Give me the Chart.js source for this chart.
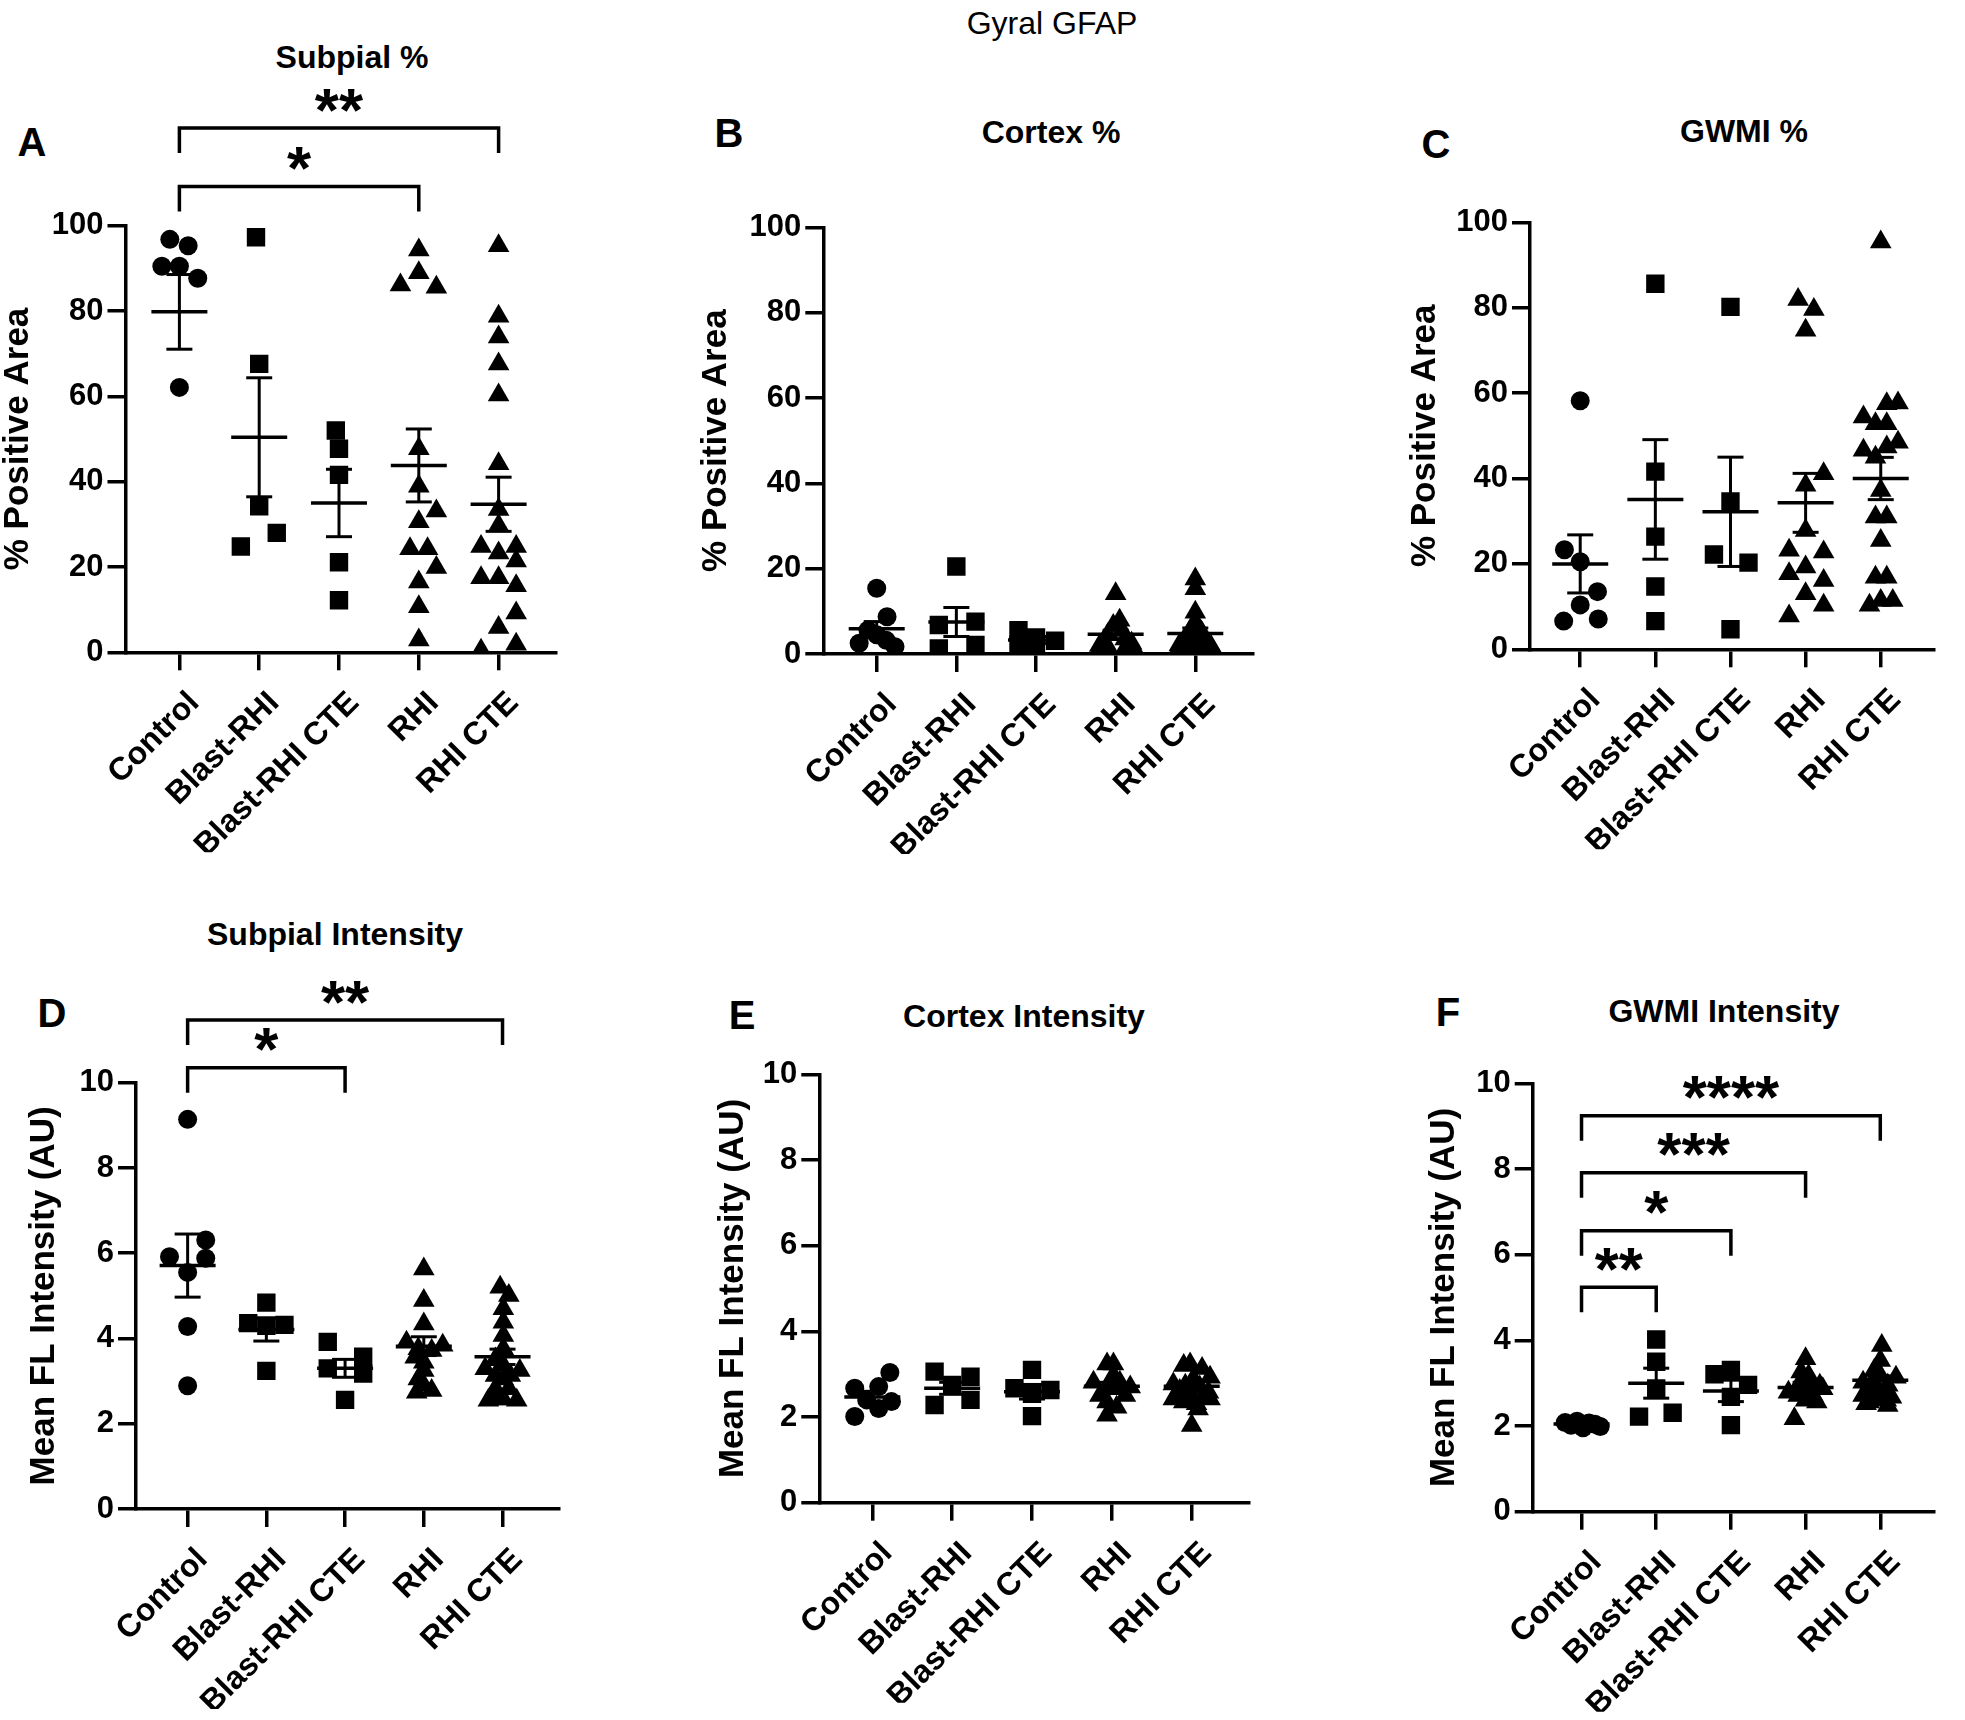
<!DOCTYPE html>
<html>
<head>
<meta charset="utf-8">
<script src="https://cdn.jsdelivr.net/npm/chart.js@4.4.1/dist/chart.umd.min.js"></script>
<style>
html,body{margin:0;padding:0;background:#fff;}
#page{position:relative;width:1965px;height:1720px;overflow:hidden;background:#fff;font-family:"Liberation Sans",Arial,Helvetica,sans-serif;color:#000;}
#page canvas{position:absolute;}
.t{position:absolute;transform:translate(-50%,-50%);white-space:nowrap;line-height:1;}
.title{font-weight:bold;font-size:32px;}
.letter{font-weight:bold;font-size:40px;}
.main{font-size:32px;}
</style>
</head>
<body>
<div id="page">
  <div class="t main" style="left:1052px;top:23px;">Gyral GFAP</div>
  <div class="t title" style="left:352px;top:57px;">Subpial %</div>
  <div class="t title" style="left:1051px;top:132px;">Cortex %</div>
  <div class="t title" style="left:1744px;top:131px;">GWMI %</div>
  <div class="t title" style="left:335px;top:934px;">Subpial Intensity</div>
  <div class="t title" style="left:1024px;top:1016px;">Cortex Intensity</div>
  <div class="t title" style="left:1724px;top:1011px;">GWMI Intensity</div>
  <div class="t letter" style="left:32px;top:142px;">A</div>
  <div class="t letter" style="left:729px;top:133px;">B</div>
  <div class="t letter" style="left:1436px;top:144px;">C</div>
  <div class="t letter" style="left:52px;top:1013px;">D</div>
  <div class="t letter" style="left:742px;top:1015px;">E</div>
  <div class="t letter" style="left:1448px;top:1012px;">F</div>
  <canvas id="cA"></canvas>
  <canvas id="cB"></canvas>
  <canvas id="cC"></canvas>
  <canvas id="cD"></canvas>
  <canvas id="cE"></canvas>
  <canvas id="cF"></canvas>
</div>
<script>
// ---------------- DATA ----------------
const categories = ['Control', 'Blast-RHI', 'Blast-RHI CTE', 'RHI', 'RHI CTE'];
const pctTicks = [0, 20, 40, 60, 80, 100];
const intTicks = [0, 2, 4, 6, 8, 10];

// A: Subpial % positive area
const subpialPctValues = [
  [96.8, 95.3, 90.5, 90.5, 87.7, 62.1],
  [97.3, 67.6, 34.2, 24.8, 28.0],
  [52.0, 47.7, 41.6, 21.1, 12.2],
  [94.3, 89.0, 86.1, 85.6, 47.7, 38.9, 33.1, 30.6, 24.3, 24.3, 19.9, 16.5, 10.7, 2.9],
  [95.3, 78.8, 73.9, 67.6, 60.3, 44.2, 33.5, 29.7, 24.8, 24.8, 23.3, 21.4, 17.5, 17.5, 15.6, 9.2, 5.8, 1.9, 0.5]
];
const subpialPctMeans = [79.8, 50.4, 35.0, 43.8, 34.7];
const subpialPctSems = [8.75, 13.95, 7.9, 8.55, 6.35];
const subpialPctComparisons = [[0, 4, '**'], [0, 3, '*']];

// B: Cortex % positive area
const cortexPctValues = [
  [15.4, 8.75, 5.6, 4.5, 3.2, 2.5, 1.7],
  [20.5, 7.6, 6.8, 2.1, 1.3],
  [5.6, 3.9, 3.1, 2.1, 1.4],
  [14.1, 7.9, 6.7, 5.5, 4.5, 3.5, 3.0, 2.5, 2.0, 1.5, 1.0, 0.7, 0.5, 0.3],
  [17.6, 15.3, 9.8, 7.5, 6.0, 5.1, 4.0, 3.5, 3.0, 2.5, 2.1, 1.7, 1.5, 1.3, 1.0, 0.8, 0.6, 0.4, 0.2]
];
const cortexPctMeans = [5.9, 7.5, 3.3, 4.6, 4.8];
const cortexPctSems = [1.7, 3.4, 0.8, 1.0, 1.3];
const cortexPctComparisons = [];

// C: GWMI % positive area
const gwmiPctValues = [
  [58.2, 23.3, 20.5, 13.5, 10.4, 6.6, 7.1],
  [85.6, 41.6, 26.4, 14.7, 6.6],
  [80.2, 34.6, 22.2, 20.3, 4.7],
  [81.9, 79.6, 74.7, 41.1, 38.4, 27.8, 23.2, 22.8, 19.3, 17.7, 16.1, 13.0, 10.3, 7.8],
  [95.4, 57.5, 57.7, 54.4, 52.8, 52.8, 46.6, 47.4, 48.5, 45.0, 37.2, 31.0, 31.0, 25.5, 16.9, 16.9, 10.3, 11.4, 11.4]
];
const gwmiPctMeans = [20.0, 35.1, 32.2, 34.3, 40.0];
const gwmiPctSems = [6.8, 14.0, 12.8, 6.9, 4.95];
const gwmiPctComparisons = [];

// D: Subpial intensity
const subpialIntValues = [
  [9.14, 6.31, 5.92, 5.88, 5.55, 4.28, 2.89],
  [4.84, 4.36, 4.32, 4.30, 3.24],
  [3.92, 3.30, 3.57, 3.18, 2.56],
  [5.63, 4.89, 4.34, 3.91, 3.84, 3.76, 3.72, 3.56, 3.44, 3.25, 3.05, 2.74, 2.78, 2.90],
  [5.20, 5.01, 4.70, 4.38, 4.07, 3.76, 3.52, 3.29, 3.25, 3.37, 3.13, 3.13, 3.05, 2.82, 2.82, 2.55, 2.58, 2.58, 2.55]
];
const subpialIntMeans = [5.71, 4.21, 3.30, 3.82, 3.57];
const subpialIntSems = [0.74, 0.27, 0.21, 0.22, 0.18];
const subpialIntComparisons = [[0, 4, '**'], [0, 2, '*']];

// E: Cortex intensity
const cortexIntValues = [
  [2.67, 2.71, 3.04, 2.40, 2.20, 2.36, 2.01],
  [3.06, 2.94, 2.75, 2.28, 2.40],
  [3.10, 2.67, 2.63, 2.54, 2.02],
  [3.24, 3.24, 2.81, 2.70, 2.97, 2.66, 2.66, 2.50, 2.50, 2.35, 2.23, 2.04, 2.89, 2.81],
  [3.20, 3.24, 3.13, 2.93, 2.77, 2.89, 2.74, 2.70, 2.62, 2.58, 2.42, 2.50, 2.42, 2.31, 2.35, 2.19, 1.80, 2.54, 2.50]
];
const cortexIntMeans = [2.47, 2.67, 2.59, 2.72, 2.72];
const cortexIntSems = [0.13, 0.14, 0.17, 0.09, 0.08];
const cortexIntComparisons = [];

// F: GWMI intensity
const gwmiIntValues = [
  [2.08, 2.02, 2.11, 1.96, 2.07, 2.04, 1.99],
  [4.02, 3.50, 2.88, 2.22, 2.31],
  [3.21, 3.31, 2.96, 2.68, 2.02],
  [3.57, 3.26, 3.18, 2.79, 2.87, 2.71, 2.71, 2.17, 2.60, 2.56, 2.95, 3.06, 2.99, 2.95],
  [3.88, 3.53, 3.30, 3.14, 3.02, 3.18, 2.95, 2.87, 2.83, 2.71, 2.75, 2.67, 2.52, 2.48, 2.63, 3.02, 2.71, 2.56, 2.60]
];
const gwmiIntMeans = [2.05, 3.00, 2.82, 2.90, 3.07];
const gwmiIntSems = [0.02, 0.35, 0.25, 0.12, 0.10];
const gwmiIntComparisons = [[0, 4, '****'], [0, 3, '***'], [0, 2, '*'], [0, 1, '**']];

// ---------------- LAYOUT / STYLE (horizontal scatter of dots, bracket heights) ----------------
const subpialPctJitter = [
  [-0.12, 0.11, -0.22, 0, 0.23, 0],
  [-0.04, 0, 0, -0.23, 0.22],
  [-0.04, 0, 0, 0, 0],
  [0, 0, -0.23, 0.22, 0, 0, 0.22, 0, -0.11, 0.11, 0.22, 0, 0, 0],
  [0, 0, 0, 0, 0, 0, 0, 0, -0.22, 0.22, 0, 0.22, -0.22, 0, 0.22, 0.22, 0, 0.22, -0.22]
];
const cortexPctJitter = [
  [0, 0.13, -0.11, 0, 0.12, -0.22, 0.23],
  [0, 0.24, -0.22, 0.24, -0.22],
  [-0.22, 0, 0.24, -0.22, 0],
  [0, 0.05, -0.03, 0.08, -0.1, 0.12, -0.15, 0.2, -0.2, 0.22, -0.08, 0.1, -0.22, 0.24],
  [0, 0, 0, 0, -0.05, 0.08, -0.1, 0.12, -0.15, 0.15, -0.2, 0.2, 0, -0.12, 0.12, -0.22, 0.23, -0.05, 0.05]
];
const gwmiPctJitter = [
  [0, -0.21, 0, 0.23, 0, -0.22, 0.24],
  [0, 0, 0, 0, 0],
  [0, 0, -0.22, 0.24, 0],
  [-0.1, 0.11, 0, 0.24, 0, 0, -0.22, 0.24, 0, -0.22, 0.24, 0, 0.24, -0.22],
  [0, 0.08, 0.23, -0.23, -0.07, 0.08, -0.23, 0.08, 0.23, -0.07, 0, -0.07, 0.08, 0, -0.07, 0.08, -0.15, 0, 0.16]
];
const subpialIntJitter = [
  [0, 0.23, -0.23, 0.23, 0, 0, 0],
  [0, -0.23, 0.23, 0, 0],
  [-0.22, -0.22, 0.23, 0.23, 0],
  [0, 0, 0, -0.22, 0.24, -0.07, 0.1, -0.11, 0, 0, -0.07, -0.09, 0.1, 0],
  [-0.03, 0.08, 0.01, 0.01, 0.01, 0.01, -0.09, -0.22, 0.22, 0.01, -0.09, 0.1, 0.01, -0.09, 0.08, -0.18, -0.09, 0.01, 0.18]
];
const cortexIntJitter = [
  [-0.22, 0.08, 0.22, -0.07, 0.08, 0.24, -0.22],
  [-0.22, 0.23, 0, -0.22, 0.23],
  [0, -0.22, 0.23, 0, 0],
  [-0.06, 0.02, -0.23, 0.23, 0.02, -0.06, 0.1, -0.15, 0.17, -0.06, 0.06, -0.06, 0, 0.1],
  [-0.1, -0.02, 0.13, 0.23, -0.23, 0.02, -0.08, 0.1, -0.15, 0.21, -0.23, -0.02, 0.23, 0.06, -0.1, 0.08, 0, -0.19, 0.15]
];
const gwmiIntJitter = [
  [-0.22, -0.14, -0.06, 0.02, 0.1, 0.18, 0.25],
  [0, 0, 0, -0.23, 0.22],
  [-0.22, 0, 0.23, 0, 0],
  [0, -0.06, 0.04, -0.23, 0.23, -0.1, 0.1, -0.15, 0, 0.15, 0, 0.06, -0.08, 0.19],
  [0.02, 0, -0.08, 0.21, -0.23, 0, 0.1, -0.15, 0.06, -0.23, -0.06, 0.15, -0.19, 0.1, -0.02, -0.1, 0.02, -0.15, 0.08]
];
const subpialPctBracketLevels = [122.9, 109.2];
const subpialIntBracketLevels = [11.47, 10.35];
const gwmiIntBracketLevels = [9.24, 7.91, 6.56, 5.24];

const FONT = '"Liberation Sans", Arial, Helvetica, sans-serif';
const groupShapes = ['circle', 'rect', 'rect', 'triangle', 'triangle'];
const shapeRadius = {circle: 9.5, rect: 13, triangle: 12.5};

// ---------------- PLUGIN: significance brackets ----------------
const bracketPlugin = {
  id: 'sigBrackets',
  afterDraw(chart, args, opts) {
    const items = opts.items || [];
    if (!items.length) return;
    const ctx = chart.ctx, xs = chart.scales.x, ys = chart.scales.y;
    ctx.save();
    ctx.strokeStyle = '#000';
    ctx.fillStyle = '#000';
    ctx.lineWidth = 3.5;
    ctx.lineJoin = 'miter';
    ctx.lineCap = 'butt';
    ctx.font = 'bold 62px ' + FONT;
    ctx.textAlign = 'center';
    ctx.textBaseline = 'alphabetic';
    items.forEach(b => {
      const x1 = xs.getPixelForValue(b.from), x2 = xs.getPixelForValue(b.to);
      const yy = ys.getPixelForValue(b.level);
      ctx.beginPath();
      ctx.moveTo(x1, yy + opts.leg);
      ctx.lineTo(x1, yy);
      ctx.lineTo(x2, yy);
      ctx.lineTo(x2, yy + opts.leg);
      ctx.stroke();
      const m = ctx.measureText(b.label);
      const base = (yy - opts.gap) + (m.actualBoundingBoxAscent - m.actualBoundingBoxDescent) / 2;
      ctx.fillText(b.label, (x1 + x2) / 2, base);
    });
    ctx.restore();
  }
};

function buildDatasets(values, jitter, means, sems) {
  const ds = [];
  ds.push({
    data: means.map((m, i) => ({x: i, y: m})),
    pointStyle: 'line', pointRadius: 28, pointBorderWidth: 3.5,
    pointBorderColor: '#000', borderColor: '#000', order: 0, clip: false
  });
  means.forEach((m, i) => {
    ds.push({
      showLine: true,
      data: [{x: i, y: m - sems[i]}, {x: i, y: m + sems[i]}],
      borderColor: '#000', borderWidth: 3,
      pointStyle: 'line', pointRadius: 13, pointBorderWidth: 3, pointBorderColor: '#000',
      order: 0, clip: false
    });
  });
  values.forEach((vals, i) => {
    const shape = groupShapes[i];
    ds.push({
      data: vals.map((v, k) => ({x: i + jitter[i][k], y: v})),
      pointStyle: shape, pointRadius: shapeRadius[shape],
      pointBackgroundColor: '#000', backgroundColor: '#000',
      pointBorderWidth: 0, borderWidth: 0, order: 1,
      clip: {left: 30, top: 30, right: 30, bottom: 0}
    });
  });
  return ds;
}

function makePanel(id, p) {
  const L = p.layout;
  const canvas = document.getElementById(id);
  canvas.width = L.cw; canvas.height = L.ch;
  canvas.style.left = L.cl + 'px'; canvas.style.top = L.ct + 'px';
  canvas.style.width = L.cw + 'px'; canvas.style.height = L.ch + 'px';
  const titleSize = 35, titleHalf = titleSize * 1.2 / 2;
  const padLeft = L.titleX - titleHalf - L.cl;
  const yW = L.axisX - L.cl - padLeft;
  const padRight = L.cl + L.cw - L.xEnd;
  const padTop = L.yTop - L.ct;
  const xH = 200;
  const padBottom = L.ct + L.ch - L.y0 - xH;
  const xmin = (L.axisX - L.cat0) / L.step;
  const xmax = (L.xEnd - L.cat0) / L.step;
  const gridOpts = {display: true, drawOnChartArea: false, drawTicks: true, tickLength: 18, color: '#000', lineWidth: 3.5};
  const borderOpts = {display: true, color: '#000', width: 3.5};
  const items = p.comparisons.map((c, k) => ({from: c[0], to: c[1], label: c[2], level: p.levels[k]}));
  return new Chart(canvas, {
    type: 'scatter',
    data: {datasets: buildDatasets(p.values, p.jitter, p.means, p.sems)},
    options: {
      responsive: false, animation: false, events: [],
      devicePixelRatio: 1,
      layout: {padding: {left: padLeft, right: padRight, top: padTop, bottom: padBottom}},
      plugins: {
        legend: {display: false}, tooltip: {enabled: false}, title: {display: false},
        sigBrackets: {items: items, leg: 25, gap: 28}
      },
      scales: {
        x: {
          type: 'linear', min: xmin, max: xmax, z: 1,
          afterBuildTicks: s => { s.ticks = categories.map((c, i) => ({value: i})); },
          afterFit: s => { s.height = xH; },
          grid: gridOpts, border: borderOpts,
          ticks: {
            autoSkip: false, minRotation: 45, maxRotation: 45, padding: 14, labelOffset: 15,
            color: '#000', font: {family: FONT, size: 32, weight: 'bold'},
            callback: v => (categories[v] !== undefined ? categories[v] : '')
          }
        },
        y: {
          type: 'linear', min: p.ticks[0], max: p.ticks[p.ticks.length - 1], z: 1,
          afterBuildTicks: s => { s.ticks = p.ticks.map(v => ({value: v})); },
          afterFit: s => { s.width = yW; },
          grid: gridOpts, border: borderOpts,
          ticks: {padding: 4, color: '#000', font: {family: FONT, size: 31, weight: 'bold'}},
          title: {display: true, text: p.yTitle, color: '#000', padding: 0,
                  font: {family: FONT, size: titleSize, weight: 'bold', lineHeight: 1.2}}
        }
      }
    },
    plugins: [bracketPlugin]
  });
}

const pctTitle = '% Positive Area';
const intTitle = 'Mean FL Intensity (AU)';

makePanel('cA', {values: subpialPctValues, jitter: subpialPctJitter, means: subpialPctMeans, sems: subpialPctSems,
  comparisons: subpialPctComparisons, levels: subpialPctBracketLevels, ticks: pctTicks, yTitle: pctTitle,
  layout: {cl: -30, ct: 0, cw: 620, ch: 900, titleX: 18.7, axisX: 125.5, xEnd: 556, yTop: 225.7, y0: 652.3, cat0: 179.4, step: 79.8}});
makePanel('cB', {values: cortexPctValues, jitter: cortexPctJitter, means: cortexPctMeans, sems: cortexPctSems,
  comparisons: cortexPctComparisons, levels: [], ticks: pctTicks, yTitle: pctTitle,
  layout: {cl: 660, ct: 0, cw: 640, ch: 900, titleX: 716, axisX: 823.3, xEnd: 1252.7, yTop: 227.3, y0: 654, cat0: 876.7, step: 79.65}});
makePanel('cC', {values: gwmiPctValues, jitter: gwmiPctJitter, means: gwmiPctMeans, sems: gwmiPctSems,
  comparisons: gwmiPctComparisons, levels: [], ticks: pctTicks, yTitle: pctTitle,
  layout: {cl: 1370, ct: 0, cw: 595, ch: 900, titleX: 1425, axisX: 1530, xEnd: 1958.3, yTop: 222.3, y0: 649.3, cat0: 1583.3, step: 79.75}});
makePanel('cD', {values: subpialIntValues, jitter: subpialIntJitter, means: subpialIntMeans, sems: subpialIntSems,
  comparisons: subpialIntComparisons, levels: subpialIntBracketLevels, ticks: intTicks, yTitle: intTitle,
  layout: {cl: -30, ct: 880, cw: 620, ch: 840, titleX: 44, axisX: 136, xEnd: 564, yTop: 1082.7, y0: 1509, cat0: 188.3, step: 79.75}});
makePanel('cE', {values: cortexIntValues, jitter: cortexIntJitter, means: cortexIntMeans, sems: cortexIntSems,
  comparisons: cortexIntComparisons, levels: [], ticks: intTicks, yTitle: intTitle,
  layout: {cl: 660, ct: 880, cw: 640, ch: 840, titleX: 733, axisX: 819.3, xEnd: 1248.3, yTop: 1074.3, y0: 1502.7, cat0: 872.3, step: 79.85}});
makePanel('cF', {values: gwmiIntValues, jitter: gwmiIntJitter, means: gwmiIntMeans, sems: gwmiIntSems,
  comparisons: gwmiIntComparisons, levels: gwmiIntBracketLevels, ticks: intTicks, yTitle: intTitle,
  layout: {cl: 1370, ct: 880, cw: 595, ch: 840, titleX: 1444.3, axisX: 1532.7, xEnd: 1962, yTop: 1083.3, y0: 1511.7, cat0: 1585, step: 80}});
</script>
</body>
</html>
